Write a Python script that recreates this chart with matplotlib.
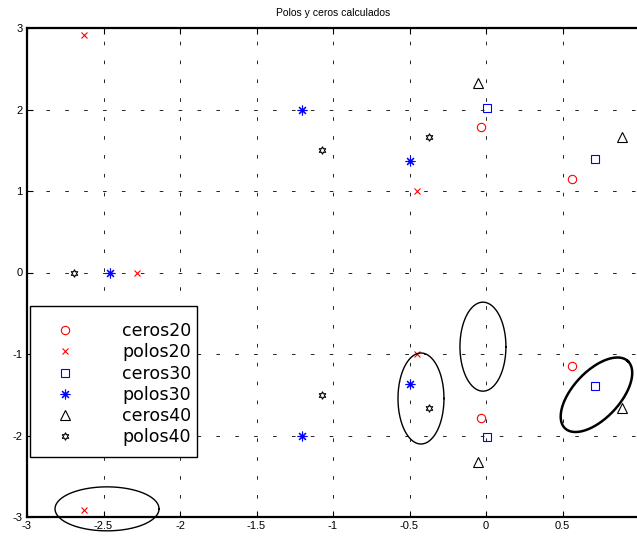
import numpy as np
import matplotlib
matplotlib.use("Agg")
import matplotlib.pyplot as plt
from matplotlib.patches import Rectangle

plt.rcParams['lines.scale_dashes'] = False
plt.rcParams['axes.unicode_minus'] = False

# Data (upper half; conjugates mirrored)
ceros20_re = [0.56, -0.03]
ceros20_im = [1.15, 1.79]
polos20_re = [-2.63, -2.28, -0.45]
polos20_im = [2.92, 0.0, 1.0]
ceros30_re = [0.005, 0.71]
ceros30_im = [2.02, 1.39]
polos30_re = [-1.20, -0.50, -2.46]
polos30_im = [2.0, 1.37, 0.0]
ceros40_re = [-0.055, 0.89]
ceros40_im = [2.32, 1.66]
polos40_re = [-1.07, -0.37, -2.69]
polos40_im = [1.50, 1.66, 0.0]

xticks = [-3, -2.5, -2, -1.5, -1, -0.5, 0, 0.5]
xticklabels = ['-3', '-2.5', '-2', '-1.5', '-1', '-0.5', '0', '0.5']
yticks = [-3, -2, -1, 0, 1, 2, 3]

def conj(re, im):
    r2, i2 = [], []
    for r, i in zip(re, im):
        r2.append(r); i2.append(i)
        if i != 0:
            r2.append(r); i2.append(-i)
    return r2, i2

W, H = 637, 540
fig = plt.figure(figsize=(W/100, H/100), dpi=100)
left_px, bottom_px, top_px = 27, 23, 28
ax_w_px = 4*153
ax_h_px = H - top_px - bottom_px
ax = fig.add_axes([left_px/W, bottom_px/H, ax_w_px/W, ax_h_px/H])
ax.set_xlim(-3, 1)
ax.set_ylim(-3, 3)

font = 'Liberation Sans'
series = [
    (ceros20_re, ceros20_im, dict(marker='o', color='red', mfc='none', ms=6, mew=0.8), 'ceros20'),
    (polos20_re, polos20_im, dict(marker='x', color='red', ms=5, mew=0.8), 'polos20'),
    (ceros30_re, ceros30_im, dict(marker='s', color='blue', mfc='none', ms=6, mew=0.8), 'ceros30'),
    (polos30_re, polos30_im, dict(marker=(8, 2, 0), color='blue', ms=7, mew=0.8), 'polos30'),
    (ceros40_re, ceros40_im, dict(marker='^', color='black', mfc='none', ms=7, mew=0.8), 'ceros40'),
    (polos40_re, polos40_im, dict(marker=(6, 1, 0), color='black', mfc='none', ms=5.5, mew=0.8), 'polos40'),
]
for re, im, st, lab in series:
    r2, i2 = conj(re, im)
    ax.plot(r2, i2, ls='none', label=lab, **st)

# Ellipses (annotations)
sx, sy = 153.0, 81.5
def ell(cx, cy, a_px, b_px, theta_deg, lw):
    t = np.linspace(0, 2*np.pi, 300)
    th = np.deg2rad(theta_deg)
    xp = a_px*np.cos(t)*np.cos(th) - b_px*np.sin(t)*np.sin(th)
    yp = a_px*np.cos(t)*np.sin(th) + b_px*np.sin(t)*np.cos(th)
    ax.plot(cx + xp/sx, cy + yp/sy, color='black', lw=lw, clip_on=False)

ell(-2.477, -2.90, 52, 22, 0, 1.0)
ell(-0.425, -1.546, 23, 45.5, 0, 1.0)
ell(-0.02, -0.91, 23, 44.5, 0, 1.0)
ell(0.722, -1.50, 46, 23.5, 47, 1.8)

ax.set_xticks(xticks)
ax.set_xticklabels(xticklabels)
ax.set_yticks(yticks)
ax.tick_params(direction='in', top=True, right=False, length=4, width=0.8,
               labelsize=8, pad=3)
for lab in ax.get_xticklabels() + ax.get_yticklabels():
    lab.set_fontfamily(font)
ax.grid(True, color='black', lw=0.6, linestyle=(0, (2.6, 11)))
for s in ['left', 'bottom', 'top']:
    ax.spines[s].set_linewidth(1.6)
ax.spines['right'].set_visible(False)

ax.set_title('Polos y ceros calculados', fontsize=7.5, fontfamily=font, pad=9)

# Legend box (pixels -> axes fraction)
def px2ax(px, py):
    return ((px - left_px)/ax_w_px, (H - bottom_px - py)/ax_h_px)

x0, y0 = px2ax(30, 457)
x1, y1 = px2ax(197, 306)
ax.add_patch(Rectangle((x0, y0), x1 - x0, y1 - y0, transform=ax.transAxes,
                       facecolor='white', edgecolor='black', lw=1.0, zorder=4))
ax_lx, ax_ly = px2ax(47.6, 322)
leg = ax.legend(loc='upper left', bbox_to_anchor=(ax_lx, ax_ly), borderaxespad=0,
                frameon=False, prop={'family': 'DejaVu Sans', 'size': 12.5},
                handlelength=2.0, handletextpad=2.28, borderpad=0, labelspacing=0.19)
leg.set_zorder(5)

fig.savefig('out.png', dpi=100)
